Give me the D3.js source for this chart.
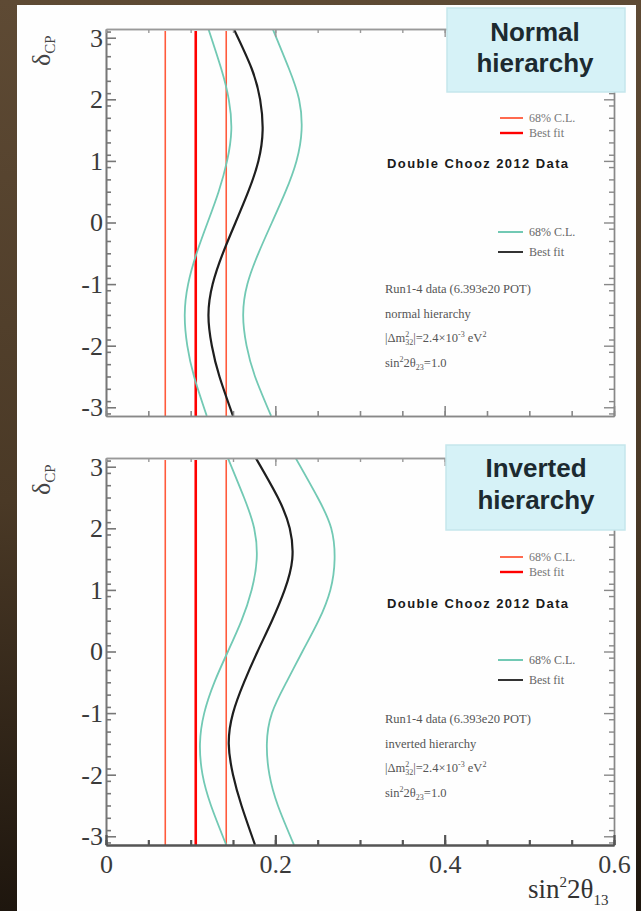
<!DOCTYPE html>
<html>
<head>
<meta charset="utf-8">
<script src="https://cdn.jsdelivr.net/npm/d3@7"></script>
<style>
  html, body { margin: 0; padding: 0; background: #3b2c1e; }
  svg { display: block; }
</style>
</head>
<body>
<script>
var deltaGrid = [-3.14, -2.5, -2, -1.5, -1, -0.5, 0, 0.5, 1, 1.5, 2, 2.5, 3.14];

// T2K contours, normal hierarchy (sin^2 2theta13)
var nhBest  = [0.150, 0.134, 0.125, 0.121, 0.126, 0.138, 0.153, 0.168, 0.180, 0.185, 0.182, 0.172, 0.151];
var nhLow   = [0.119, 0.104, 0.096, 0.093, 0.097, 0.107, 0.120, 0.133, 0.143, 0.148, 0.145, 0.136, 0.121];
var nhHigh  = [0.195, 0.176, 0.166, 0.162, 0.167, 0.180, 0.196, 0.212, 0.225, 0.231, 0.228, 0.216, 0.197];

// T2K contours, inverted hierarchy
var ihBest  = [0.176, 0.160, 0.150, 0.145, 0.150, 0.163, 0.179, 0.196, 0.211, 0.220, 0.217, 0.203, 0.177];
var ihLow   = [0.142, 0.124, 0.114, 0.111, 0.116, 0.128, 0.144, 0.160, 0.172, 0.178, 0.175, 0.163, 0.144];
var ihHigh  = [0.222, 0.203, 0.193, 0.190, 0.196, 0.213, 0.232, 0.251, 0.265, 0.270, 0.266, 0.250, 0.224];

// Double Chooz 2012: 68% C.L. low, best fit, 68% C.L. high
var dcValues = [0.070, 0.106, 0.142];

var xTickLabels = [0, 0.2, 0.4, 0.6];
var yTickLabels = [-3, -2, -1, 0, 1, 2, 3];
var titles = [["Normal", "hierarchy"], ["Inverted", "hierarchy"]];
var hierText = ["normal hierarchy", "inverted hierarchy"];

var width = 641,
    height = 911;

var svg = d3.select("body").append("svg")
    .attr("width", width)
    .attr("height", height);

var defs = svg.append("defs");
var bg = defs.append("linearGradient").attr("id", "bg")
    .attr("x1", 0).attr("y1", 0).attr("x2", 0).attr("y2", 1);
bg.append("stop").attr("offset", "0%").attr("stop-color", "#5e4a34");
bg.append("stop").attr("offset", "55%").attr("stop-color", "#4a3926");
bg.append("stop").attr("offset", "100%").attr("stop-color", "#1e160e");

svg.append("rect").attr("width", width).attr("height", height).attr("fill", "url(#bg)");
// white sheet
svg.append("rect").attr("x", 17).attr("y", 5).attr("width", 619).attr("height", 906).attr("fill", "#fefefe");

var x = d3.scaleLinear().domain([0, 0.6]).range([106, 614]);

var panels = [
  { top: 29,  bottom: 416, best: nhBest, low: nhLow, high: nhHigh,
    box: [447, 8, 178, 84], tx: 535, ty: [41, 72],
    leg1: 118, dc: 168, leg2: 232, info: 293, labels: false },
  { top: 458, bottom: 845, best: ihBest, low: ihLow, high: ihHigh,
    box: [446, 445, 179, 85], tx: 536, ty: [477, 509],
    leg1: 557, dc: 608, leg2: 660, info: 723, labels: true }
];

var serif = "'Liberation Serif', 'DejaVu Serif', serif";

panels.forEach(function(p, pi) {
  var y = d3.scaleLinear().domain([-Math.PI, Math.PI]).range([p.bottom, p.top]);
  var g = svg.append("g");

  var clipId = "clip" + pi;
  defs.append("clipPath").attr("id", clipId).append("rect")
      .attr("x", x(0)).attr("y", p.top)
      .attr("width", x(0.6) - x(0)).attr("height", p.bottom - p.top);

  var plot = g.append("g").attr("clip-path", "url(#" + clipId + ")");

  // Double Chooz vertical lines
  plot.selectAll("line.dc")
    .data(dcValues)
    .enter()
    .append("line")
    .attr("x1", function(d) { return x(d); })
    .attr("x2", function(d) { return x(d); })
    .attr("y1", p.top + 2)
    .attr("y2", p.bottom)
    .attr("stroke", function(d, i) { return i == 1 ? "#ff0000" : "#ff5a3c"; })
    .attr("stroke-width", function(d, i) { return i == 1 ? 2.6 : 1.6; });

  var line = d3.line()
    .x(function(d) { return x(d[1]); })
    .y(function(d) { return y(d[0]); })
    .curve(d3.curveNatural);

  [p.low, p.high].forEach(function(arr) {
    plot.append("path")
      .datum(d3.zip(deltaGrid, arr))
      .attr("d", line)
      .attr("fill", "none")
      .attr("stroke", "#72c9b4")
      .attr("stroke-width", 1.8);
  });
  plot.append("path")
    .datum(d3.zip(deltaGrid, p.best))
    .attr("d", line)
    .attr("fill", "none")
    .attr("stroke", "#1e1e1e")
    .attr("stroke-width", 2.2);

  // axes
  var minorY = d3.range(-31, 32, 2).map(function(d) { return d / 10; });
  var minorX = d3.range(0, 13).map(function(d) { return d * 0.05; });
  var fmt = function(d) { return d < 0 ? "-" + (-d) : String(d); };

  function styleAxis(sel, color, w) {
    sel.selectAll("path").attr("stroke", color).attr("stroke-width", w);
    sel.selectAll("line").attr("stroke", color).attr("stroke-width", w);
  }

  var left = g.append("g").attr("transform", "translate(" + x(0) + ",0)");
  left.call(d3.axisLeft(y).tickValues(minorY).tickSize(-5).tickSizeOuter(0).tickFormat(""));
  var leftMaj = g.append("g").attr("transform", "translate(" + x(0) + ",0)")
    .call(d3.axisLeft(y).tickValues(yTickLabels).tickSize(-10).tickSizeOuter(0).tickPadding(3).tickFormat(fmt));
  styleAxis(left, "#777", 1.6);
  styleAxis(leftMaj, "#777", 1.6);
  leftMaj.selectAll("text").attr("font-family", serif).attr("font-size", 26).attr("fill", "#3a3a3a");

  var right = g.append("g").attr("transform", "translate(" + x(0.6) + ",0)");
  right.call(d3.axisRight(y).tickValues(minorY).tickSize(-5).tickSizeOuter(0).tickFormat(""));
  right.append("g").call(d3.axisRight(y).tickValues(yTickLabels).tickSize(-10).tickSizeOuter(0).tickFormat(""));
  styleAxis(right, "#888", 1.4);

  var top = g.append("g").attr("transform", "translate(0," + p.top + ")");
  top.call(d3.axisTop(x).tickValues(minorX).tickSize(-4).tickSizeOuter(0).tickFormat(""));
  top.append("g").call(d3.axisTop(x).tickValues([0.2, 0.4]).tickSize(-8).tickSizeOuter(0).tickFormat(""));
  styleAxis(top, "#999", 1.4);

  var bottom = g.append("g").attr("transform", "translate(0," + p.bottom + ")");
  bottom.call(d3.axisBottom(x).tickValues(minorX).tickSize(-5).tickSizeOuter(0).tickFormat(""));
  var botMaj = bottom.append("g").call(d3.axisBottom(x).tickValues(xTickLabels).tickSize(-10)
      .tickSizeOuter(0).tickPadding(10).tickFormat(p.labels ? fmt : ""));
  styleAxis(bottom, p.labels ? "#555" : "#888", p.labels ? 2.2 : 1.6);
  botMaj.selectAll("text").attr("font-family", serif).attr("font-size", 26).attr("fill", "#3a3a3a");
  svg.selectAll(".domain").attr("fill", "none");

  // y title
  var yt = g.append("text")
    .attr("transform", "translate(50," + (p.top + 37) + ") rotate(-90)")
    .attr("font-family", serif).attr("font-size", 26).attr("fill", "#444");
  yt.append("tspan").text("δ");
  yt.append("tspan").attr("font-size", 15).attr("dy", 5).text("CP");

  // title box
  g.append("rect")
    .attr("x", p.box[0]).attr("y", p.box[1])
    .attr("width", p.box[2]).attr("height", p.box[3])
    .attr("fill", "#d6f2f7").attr("stroke", "#c5e6ec").attr("stroke-width", 1.5);
  titles[pi].forEach(function(t, i) {
    g.append("text")
      .attr("x", p.tx).attr("y", p.ty[i])
      .attr("text-anchor", "middle")
      .attr("font-family", "'Liberation Sans', Arial, sans-serif")
      .attr("font-weight", 700).attr("font-size", 26)
      .attr("fill", "#1c2a30")
      .text(t);
  });

  // Double Chooz legend
  [["68% C.L.", "#ff5a3c", 1.8], ["Best fit", "#ff0000", 2.4]].forEach(function(l, i) {
    var ly = p.leg1 + i * 15;
    g.append("line").attr("x1", 500).attr("x2", 523).attr("y1", ly).attr("y2", ly)
      .attr("stroke", l[1]).attr("stroke-width", l[2]);
    g.append("text").attr("x", 529).attr("y", ly + 4)
      .attr("font-family", serif).attr("font-size", 12).attr("fill", "#777").text(l[0]);
  });
  g.append("text").attr("x", 387).attr("y", p.dc)
    .attr("font-family", "'Liberation Sans', Arial, sans-serif")
    .attr("font-weight", 700).attr("font-size", 13).attr("letter-spacing", 1.4)
    .attr("fill", "#1a1a1a").text("Double Chooz 2012 Data");

  // T2K legend
  [["68% C.L.", "#72c9b4"], ["Best fit", "#333"]].forEach(function(l, i) {
    var ly = p.leg2 + i * 20;
    g.append("line").attr("x1", 498).attr("x2", 523).attr("y1", ly).attr("y2", ly)
      .attr("stroke", l[1]).attr("stroke-width", 2);
    g.append("text").attr("x", 529).attr("y", ly + 4)
      .attr("font-family", serif).attr("font-size", 12).attr("fill", "#666").text(l[0]);
  });

  // run info
  var info = g.append("g").attr("font-family", serif).attr("font-size", 12.5).attr("fill", "#555");
  info.append("text").attr("x", 385).attr("y", p.info).text("Run1-4 data (6.393e20 POT)");
  info.append("text").attr("x", 385).attr("y", p.info + 25).text(hierText[pi]);
  var dm = info.append("text").attr("x", 385).attr("y", p.info + 49);
  dm.append("tspan").text("|Δm");
  dm.append("tspan").attr("font-size", 8).attr("dy", -5).text("2");
  dm.append("tspan").attr("font-size", 8).attr("dx", -4).attr("dy", 8).text("32");
  dm.append("tspan").attr("dy", -3).text("|=2.4×10");
  dm.append("tspan").attr("font-size", 8).attr("dy", -5).text("-3");
  dm.append("tspan").attr("dy", 5).text(" eV");
  dm.append("tspan").attr("font-size", 8).attr("dy", -5).text("2");
  var s2 = info.append("text").attr("x", 385).attr("y", p.info + 74);
  s2.append("tspan").text("sin");
  s2.append("tspan").attr("font-size", 8).attr("dy", -5).text("2");
  s2.append("tspan").attr("dy", 5).text("2θ");
  s2.append("tspan").attr("font-size", 8).attr("dy", 3).text("23");
  s2.append("tspan").attr("dy", -3).text("=1.0");
});

// x title
var xt = svg.append("text").attr("x", 528).attr("y", 898)
  .attr("font-family", serif).attr("font-size", 27).attr("fill", "#333");
xt.append("tspan").text("sin");
xt.append("tspan").attr("font-size", 15).attr("dy", -11).text("2");
xt.append("tspan").attr("dy", 11).text("2θ");
xt.append("tspan").attr("font-size", 15).attr("dy", 7).text("13");
</script>
</body>
</html>
